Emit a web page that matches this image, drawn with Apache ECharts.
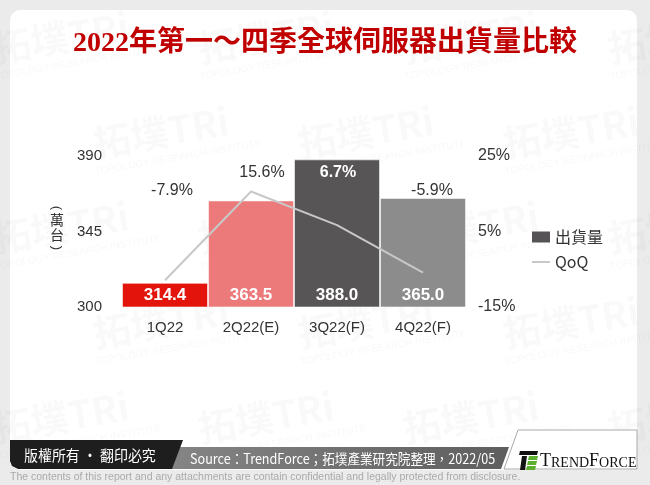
<!DOCTYPE html>
<html>
<head>
<meta charset="utf-8">
<script src="https://cdn.jsdelivr.net/npm/echarts@6/dist/echarts.min.js"></script>
<style>
html,body{margin:0;padding:0;background:#ebebeb;}
#c{width:650px;height:485px;}
</style>
</head>
<body>
<div id="c"></div>
<script>
const categories = ['1Q22', '2Q22(E)', '3Q22(F)', '4Q22(F)'];
const shipments = [314.4, 363.5, 388.0, 365.0];
const qoq = [-7.9, 15.6, 6.7, -5.9];
const leftTicks = [300, 345, 390];
const rightTicks = [-15, 5, 25];

const barColors = ['#E2140C', '#EC7A7A', '#585556', '#8C8C8C'];
const qoqLabelOffsets = [[7, -77], [11, -6], [1, -39], [9, -69]];
const qoqLabelColors = ['#333', '#333', '#fff', '#333'];
const qoqLabelWeights = ['normal', 'normal', 'bold', 'normal'];

const cjk = '"Noto Sans CJK TC","Noto Sans CJK SC",sans-serif';
const sans = 'Arial,"Liberation Sans",sans-serif';

const chart = echarts.init(document.getElementById('c'));

// watermark decorations
const wm = [];
for (let r = 0; r < 5; r++) {
  for (let k = 0; k < 4; k++) {
    const x = 30 + k * 205 + (r % 2) * 100 - 40;
    const y = 30 + r * 95;
    wm.push({
      type: 'text', x: x, y: y, rotation: 0.17, silent: true, z: 1,
      style: {text: '拓墣TRi', fill: 'rgba(0,0,0,0.025)', font: 'bold 38px ' + cjk}
    });
    wm.push({
      type: 'text', x: x + 4, y: y + 42, rotation: 0.17, silent: true, z: 1,
      style: {text: 'TOPOLOGY RESEARCH INSTITUTE', fill: 'rgba(0,0,0,0.03)', font: '10px ' + sans}
    });
  }
}

const option = {
  backgroundColor: '#ebebeb',
  animation: false,
  title: {
    text: '2022年第一～四季全球伺服器出貨量比較',
    left: 'center', top: 25,
    textStyle: {color: '#C00000', fontSize: 28, fontWeight: 'bold', fontFamily: '"Liberation Serif","DejaVu Serif",' + cjk}
  },
  legend: {
    orient: 'vertical', left: 526, top: 224, itemGap: 9,
    itemWidth: 18, itemHeight: 11,
    textStyle: {color: '#333', fontSize: 16, fontFamily: cjk},
    data: [
      {name: '出貨量', icon: 'rect', itemStyle: {color: '#555355'}},
      {name: 'QoQ', itemStyle: {opacity: 0}}
    ]
  },
  grid: {left: 122, right: 184, top: 156, bottom: 178, containLabel: false},
  xAxis: {
    type: 'category', data: categories,
    axisLine: {show: false}, axisTick: {show: false},
    axisLabel: {color: '#333', fontSize: 15, fontFamily: sans, margin: 13}
  },
  yAxis: [
    {
      type: 'value', min: leftTicks[0], max: leftTicks[leftTicks.length - 1], interval: 45,
      splitLine: {show: false}, axisLine: {show: false}, axisTick: {show: false},
      axisLabel: {color: '#333', fontSize: 15, fontFamily: sans, margin: 20}
    },
    {
      type: 'value', min: rightTicks[0], max: rightTicks[rightTicks.length - 1], interval: 20,
      splitLine: {show: false}, axisLine: {show: false}, axisTick: {show: false},
      axisLabel: {color: '#333', fontSize: 16, fontFamily: sans, margin: 12, formatter: '{value}%'}
    }
  ],
  series: [
    {
      name: '出貨量', type: 'bar', barCategoryGap: '0%', z: 3,
      itemStyle: {color: '#555355'},
      data: shipments.map((v, i) => ({
        value: v,
        itemStyle: {color: barColors[i], borderColor: 'rgba(255,255,255,0.55)', borderWidth: 1}
      })),
      label: {
        show: true, position: 'insideBottom', distance: 4,
        color: '#fff', fontSize: 17, fontWeight: 'bold', fontFamily: sans,
        formatter: p => p.value.toFixed(1)
      }
    },
    {
      name: 'QoQ', type: 'line', yAxisIndex: 1, z: 5,
      symbol: 'circle', symbolSize: 0.1, showSymbol: true,
      lineStyle: {color: '#C8C8C8', width: 2}, itemStyle: {color: '#C8C8C8'},
      data: qoq.map((v, i) => ({
        value: v,
        label: {offset: qoqLabelOffsets[i], color: qoqLabelColors[i], fontWeight: qoqLabelWeights[i]}
      })),
      label: {
        show: true, position: 'top', distance: 5,
        fontSize: 16, fontFamily: sans,
        formatter: p => p.value.toFixed(1) + '%'
      }
    }
  ],
  graphic: [
    {type: 'rect', z: 0, silent: true, shape: {x: 10, y: 10, width: 627, height: 460, r: 10}, style: {fill: '#fff'}},
    ...wm,
    // axis name (萬台) vertical
    {type: 'text', z: 10, x: 57, y: 208, rotation: -Math.PI / 2, style: {text: '(', fill: '#333', font: '13px ' + sans, align: 'center', verticalAlign: 'middle'}},
    {type: 'text', z: 10, x: 57, y: 220, style: {text: '萬', fill: '#333', font: '14px ' + cjk, align: 'center', verticalAlign: 'middle'}},
    {type: 'text', z: 10, x: 57, y: 235, style: {text: '台', fill: '#333', font: '14px ' + cjk, align: 'center', verticalAlign: 'middle'}},
    {type: 'text', z: 10, x: 57, y: 248, rotation: -Math.PI / 2, style: {text: ')', fill: '#333', font: '13px ' + sans, align: 'center', verticalAlign: 'middle'}},
    // footer: logo box
    {type: 'polygon', z: 10, silent: true, shape: {points: [[518, 430], [637, 430], [637, 469], [504, 469]]}, style: {fill: '#fff', stroke: '#aaa', lineWidth: 1}},
    // footer: grey band
    {type: 'polygon', z: 11, silent: true, shape: {points: [[178, 447], [509, 447], [501, 469], [170, 469]]},
      style: {fill: new echarts.graphic.LinearGradient(0, 0, 1, 0, [{offset: 0, color: '#858585'}, {offset: 1, color: '#5e5e5e'}])}},
    // footer: black band
    {type: 'polygon', z: 12, silent: true, shape: {points: [[10, 440], [183, 440], [172, 469], [18, 469], [12, 466], [10, 461]]}, style: {fill: '#1e1e1e'}},
    {type: 'text', z: 13, x: 24, y: 455, scaleX: 0.93, style: {text: '版權所有 · 翻印必究', fill: '#fff', font: '15px ' + cjk, verticalAlign: 'middle'}},
    {type: 'text', z: 13, x: 190, y: 459, scaleX: 0.9, style: {text: 'Source：TrendForce；拓墣產業研究院整理，2022/05', fill: '#fff', font: '14px ' + cjk, verticalAlign: 'middle'}},
    // TrendForce logo
    {type: 'polygon', z: 13, silent: true, shape: {points: [[520, 451], [538, 451], [537, 455], [519, 455]]}, style: {fill: '#111'}},
    {type: 'polygon', z: 13, silent: true, shape: {points: [[522, 456], [527, 456], [525, 470], [520, 470]]}, style: {fill: '#111'}},
    {type: 'polygon', z: 13, silent: true, shape: {points: [[529, 456], [538, 456], [537, 460], [528, 460]]}, style: {fill: '#5BAE2E'}},
    {type: 'polygon', z: 13, silent: true, shape: {points: [[528, 461], [537, 461], [536, 465], [527, 465]]}, style: {fill: '#5BAE2E'}},
    {type: 'polygon', z: 13, silent: true, shape: {points: [[527, 466], [536, 466], [535, 470], [526, 470]]}, style: {fill: '#5BAE2E'}},
    {type: 'text', z: 13, x: 540, y: 461, style: {
      text: '{a|T}{b|REND}{a|F}{b|ORCE}', verticalAlign: 'middle',
      rich: {
        a: {fontSize: 18, fontFamily: '"Liberation Serif",serif', fill: '#111', verticalAlign: 'bottom'},
        b: {fontSize: 14, fontFamily: '"Liberation Serif",serif', fill: '#111', verticalAlign: 'bottom'}
      }
    }},
    {type: 'text', z: 13, x: 10, y: 477, scaleX: 0.955, style: {text: 'The contents of this report and any attachments are contain confidential and legally protected from disclosure.', fill: '#aaa', font: '11px ' + sans, verticalAlign: 'middle'}}
  ]
};
chart.setOption(option);
</script>
</body>
</html>
